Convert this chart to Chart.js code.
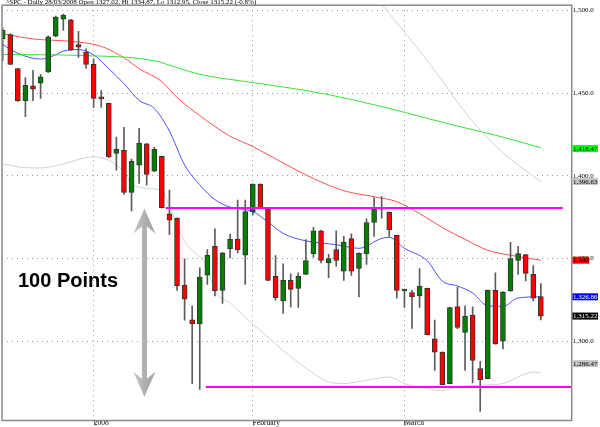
<!DOCTYPE html>
<html>
<head>
<meta charset="utf-8">
<script src="https://cdn.jsdelivr.net/npm/chart.js@4.4.1/dist/chart.umd.min.js"></script>
<style>
  html, body { margin: 0; padding: 0; background: #fff; }
  #chart { display: block; }
</style>
</head>
<body>
<canvas id="chart" width="600" height="427"></canvas>
<script>
// daily candles, index 0 = first visible session (mid December 2007)
const opens = [
  1482.8, 1485.4, 1464.8, 1445.4, 1454.4, 1456.0, 1462.8, 1484.4, 1494.8, 1494.4,
  1479.4, 1474.8, 1467.4, 1447.1, 1443.8, 1413.6, 1415.4, 1390.0, 1406.4, 1419.4,
  1402.8, 1411.8, 1377.0, 1374.4, 1334.0, 1313.0, 1310.4, 1340.0, 1357.4, 1330.8,
  1356.0, 1361.8, 1352.0, 1378.4, 1395.0, 1380.0, 1339.2, 1324.4, 1336.8, 1332.0,
  1340.4, 1353.0, 1366.8, 1347.4, 1355.4, 1342.4, 1362.0, 1344.0, 1353.0, 1371.8,
  1379.8, 1378.0, 1364.0, 1330.4, 1329.4, 1327.4, 1332.0, 1301.4, 1293.4, 1274.4,
  1321.0, 1305.4, 1315.8, 1283.4, 1277.4, 1330.8, 1300.0, 1330.4, 1348.8, 1352.4,
  1340.4, 1327.02
];
const highs = [
  1489.4, 1485.8, 1465.0, 1459.4, 1463.8, 1461.4, 1484.6, 1496.6, 1497.8, 1494.6,
  1487.4, 1476.8, 1470.8, 1451.6, 1444.0, 1423.4, 1429.4, 1410.2, 1428.8, 1419.6,
  1417.4, 1412.0, 1391.4, 1374.6, 1349.8, 1321.4, 1344.4, 1355.4, 1368.0, 1353.6,
  1364.8, 1385.4, 1385.4, 1395.2, 1395.2, 1380.2, 1351.8, 1346.8, 1340.8, 1341.4,
  1361.4, 1368.8, 1367.0, 1352.6, 1366.8, 1363.4, 1365.0, 1353.4, 1374.0, 1386.8,
  1387.4, 1378.2, 1364.2, 1331.6, 1330.8, 1344.0, 1332.2, 1312.8, 1293.6, 1320.6,
  1332.8, 1321.4, 1320.8, 1287.8, 1331.0, 1341.4, 1330.0, 1359.8, 1357.4, 1352.6,
  1345.8, 1334.87
];
const lows = [
  1469.6, 1467.2, 1445.0, 1435.8, 1445.4, 1446.8, 1462.4, 1484.0, 1488.0, 1475.8,
  1471.6, 1465.0, 1441.4, 1441.4, 1411.0, 1403.4, 1388.8, 1378.8, 1395.4, 1394.4,
  1402.6, 1380.6, 1364.4, 1330.8, 1312.8, 1274.4, 1270.8, 1334.4, 1327.4, 1322.8,
  1350.4, 1353.4, 1334.4, 1376.4, 1380.2, 1336.6, 1324.8, 1316.8, 1320.8, 1320.4,
  1340.2, 1350.8, 1347.4, 1338.4, 1345.4, 1336.8, 1339.8, 1326.8, 1346.4, 1363.4,
  1374.4, 1363.4, 1326.0, 1320.4, 1307.8, 1320.4, 1303.8, 1282.4, 1273.6, 1274.2,
  1307.6, 1282.4, 1274.8, 1257.5, 1277.2, 1298.2, 1295.4, 1330.2, 1340.4, 1336.4,
  1324.4, 1312.95
];
const closes = [
  1488.0, 1467.4, 1445.4, 1454.8, 1452.4, 1459.8, 1484.0, 1496.0, 1497.2, 1476.0,
  1477.8, 1467.4, 1446.8, 1446.5, 1411.4, 1416.0, 1390.0, 1408.8, 1419.8, 1400.8,
  1416.0, 1380.8, 1373.2, 1333.4, 1325.4, 1310.4, 1338.8, 1352.0, 1330.4, 1353.4,
  1361.8, 1355.4, 1378.4, 1395.0, 1380.4, 1336.8, 1326.4, 1336.8, 1331.4, 1339.2,
  1348.8, 1366.8, 1348.8, 1350.0, 1348.8, 1360.0, 1342.4, 1353.2, 1371.8, 1381.0,
  1380.4, 1367.4, 1330.8, 1331.4, 1326.8, 1333.4, 1304.0, 1293.4, 1273.8, 1320.4,
  1308.4, 1315.2, 1288.4, 1276.8, 1330.8, 1298.4, 1329.8, 1350.0, 1353.0, 1341.0,
  1326.0, 1315.22
];

// moving averages / bands, read at selected sessions
const blueIdx = [0, 2, 5, 7, 8, 10, 12, 14, 16, 18, 20, 22, 24, 26, 28, 30, 33, 35, 37, 40, 44, 47, 50, 51, 53, 56, 58, 60, 62, 64, 66, 68, 71];
const blueMA = [1479.4, 1474.1, 1470.6, 1473.2, 1475.4, 1476.4, 1473.2, 1464.8, 1455.8, 1445.6, 1440.8, 1427.0, 1406.6, 1394.6, 1385.6, 1381.1, 1378.4, 1372.1, 1365.2, 1360.7, 1358.4, 1356.2, 1362.2, 1362.8, 1356.2, 1348.7, 1336.4, 1333.4, 1329.2, 1321.4, 1321.1, 1326.2, 1326.86];
const redIdx = [0, 4, 9, 13, 16, 18, 21, 23, 26, 30, 33, 37, 41, 45, 49, 52, 55, 58, 61, 64, 67, 71];
const redMA = [1486.0, 1482.8, 1481.3, 1478.3, 1471.4, 1464.8, 1457.0, 1447.4, 1436.4, 1424.0, 1417.7, 1407.8, 1398.4, 1391.0, 1387.4, 1384.4, 1377.2, 1368.8, 1361.6, 1355.0, 1352.0, 1349.0];
const greenIdx = [0, 10, 20, 23, 26, 33, 40, 46, 53, 59, 65, 71];
const greenMA = [1473.4, 1472.8, 1469.6, 1465.4, 1461.4, 1456.4, 1451.6, 1446.2, 1438.4, 1431.2, 1424.6, 1417.0];
const lowerIdx = [0, 2, 5, 8, 11, 12, 14, 16, 17, 19, 21, 22, 24, 27, 28, 30, 32, 34, 37, 39, 41, 43, 45, 48, 51, 53, 56, 58, 60, 63, 66, 68, 70, 71];
const lowerBand = [1407.4, 1405.4, 1404.8, 1407.2, 1411.1, 1411.4, 1409.4, 1402.4, 1395.4, 1392.4, 1390.8, 1381.4, 1360.4, 1344.4, 1330.4, 1323.2, 1314.4, 1306.4, 1294.4, 1287.2, 1280.6, 1275.4, 1274.4, 1276.4, 1278.4, 1274.4, 1271.4, 1270.1, 1272.4, 1273.4, 1274.4, 1278.4, 1281.4, 1280.9];
const upperIdx = [48, 50, 52, 55, 58, 60, 63, 66, 68, 71];
const upperBand = [1512.0, 1503.5, 1492.5, 1475.6, 1457.5, 1444.5, 1427.6, 1414.0, 1406.5, 1396.63];

// hand drawn levels
const resistanceIdx = [21.5, 73.9];
const resistanceLevel = 1380.5;
const supportIdx = [26.8, 75.5];
const supportLevel = 1272.4;

// axes
const priceTicks = [1300, 1350, 1400, 1450, 1500];
const priceTickLabels = ['1,300.0', '1,350.0', '1,400.0', '1,450.0', '1,500.0'];
const monthTickIdx = [12, 33, 53];
const monthTickLabels = ['2008', 'February', 'March'];

// last value tags on the price axis
const tagValues = [1416.5, 1396.63, 1349.0, 1326.86, 1315.22, 1286.47];
const tagTexts = ['1,418.47', '1,396.63', '1,349', '1,326.86', '1,315.22', '1,286.47'];

const titleText = '^SPC - Daily 28/03/2008 Open 1327.02, Hi 1334.87, Lo 1312.95, Close 1315.22 (-0.8%)';

const candleIdx = opens.map((o, i) => i);
const toPoints = (idx, vals) => idx.map((x, i) => ({x: x, y: vals[i]}));

const serif = '"Liberation Serif", "DejaVu Serif", serif';

const tagFill = ['#00ff00', '#c4c4c4', '#ff0000', '#0000ff', '#000000', '#c4c4c4'];
const tagInk = ['#000', '#000', '#000', '#fff', '#fff', '#000'];

const extras = {
  id: 'extras',
  beforeDatasetsDraw(chart) {
    const {ctx, scales: {x, y}} = chart;
    // grey double arrow
    const cx = x.getPixelForValue(18.7);
    const top = y.getPixelForValue(1380.3);
    const bot = y.getPixelForValue(1266.4);
    ctx.save();
    ctx.beginPath();
    ctx.moveTo(cx, top);
    ctx.lineTo(cx + 11, top + 25);
    ctx.lineTo(cx + 2.5, top + 18);
    ctx.lineTo(cx + 2.5, bot - 18);
    ctx.lineTo(cx + 11, bot - 25);
    ctx.lineTo(cx, bot);
    ctx.lineTo(cx - 11, bot - 25);
    ctx.lineTo(cx - 2.5, bot - 18);
    ctx.lineTo(cx - 2.5, top + 18);
    ctx.lineTo(cx - 11, top + 25);
    ctx.closePath();
    const g = ctx.createLinearGradient(cx - 11, 0, cx + 11, 0);
    g.addColorStop(0, '#c8c8c8');
    g.addColorStop(0.5, '#b0b0b0');
    g.addColorStop(1, '#a4a4a4');
    ctx.fillStyle = g;
    ctx.fill();
    ctx.restore();
  },
  afterDraw(chart) {
    const {ctx, chartArea: a, scales: {x, y}} = chart;
    ctx.save();

    // frame
    ctx.strokeStyle = '#8a8a8a';
    ctx.lineWidth = 1.5;
    ctx.strokeRect(a.left, a.top, a.right - a.left, a.bottom - a.top);

    // month tick marks
    ctx.lineWidth = 1;
    ctx.strokeStyle = '#666';
    monthTickIdx.forEach(v => {
      const px = Math.round(x.getPixelForValue(v)) + 0.5;
      ctx.beginPath();
      ctx.moveTo(px, a.bottom);
      ctx.lineTo(px, a.bottom + 5);
      ctx.stroke();
    });

    // annotation text
    ctx.fillStyle = '#000';
    ctx.font = 'bold 20px "Liberation Sans", Arial, sans-serif';
    ctx.textBaseline = 'middle';
    ctx.textAlign = 'left';
    ctx.fillText('100 Points', 18, 281);

    // last value tags
    ctx.font = '7px ' + serif;
    tagValues.forEach((v, i) => {
      const py = y.getPixelForValue(v);
      const w = ctx.measureText(tagTexts[i]).width + 1;
      ctx.fillStyle = tagFill[i];
      ctx.fillRect(a.right + 0.8, py - 3.5, w, 7);
      ctx.fillStyle = tagInk[i];
      ctx.fillText(tagTexts[i], a.right + 1.2, py + 0.3);
    });

    // title over the top border
    ctx.font = '7px ' + serif;
    const tw = ctx.measureText(titleText).width;
    ctx.fillStyle = '#fff';
    ctx.fillRect(a.left + 2.5, 0, tw + 3, 4);
    ctx.fillStyle = '#000';
    ctx.textBaseline = 'middle';
    ctx.fillText(titleText, a.left + 4, 2.5);
    ctx.restore();
  }
};

const lineDs = (label, idx, vals, color) => ({
  type: 'line', label: label, data: toPoints(idx, vals),
  borderColor: color, borderWidth: 1, pointRadius: 0,
  cubicInterpolationMode: 'monotone', order: 5
});

new Chart(document.getElementById('chart'), {
  type: 'bar',
  data: {
    datasets: [
      {
        label: 'body',
        data: candleIdx.map(i => ({x: i, y: [opens[i], closes[i]]})),
        backgroundColor: candleIdx.map(i => closes[i] >= opens[i] ? '#008000' : '#ff0000'),
        borderColor: '#333',
        borderWidth: 1,
        borderSkipped: false,
        barThickness: 5,
        minBarLength: 2,
        grouped: false,
        order: 1
      },
      {
        label: 'wick',
        data: candleIdx.map(i => ({x: i, y: [lows[i], highs[i]]})),
        backgroundColor: '#5c5c5c',
        barThickness: 1,
        grouped: false,
        order: 2
      },
      lineDs('lower', lowerIdx, lowerBand, '#d2d2d2'),
      lineDs('upper', upperIdx, upperBand, '#d2d2d2'),
      lineDs('slow', greenIdx, greenMA, '#33e633'),
      lineDs('mid', redIdx, redMA, '#ff5050'),
      lineDs('fast', blueIdx, blueMA, '#5050ff'),
      {
        type: 'line', label: 'resistance',
        data: resistanceIdx.map(v => ({x: v, y: resistanceLevel})),
        borderColor: '#ff00ff', borderWidth: 2, pointRadius: 0, order: 0
      },
      {
        type: 'line', label: 'support',
        data: supportIdx.map(v => ({x: v, y: supportLevel})),
        borderColor: '#ff00ff', borderWidth: 2, pointRadius: 0, order: 0
      }
    ]
  },
  options: {
    responsive: false,
    animation: false,
    layout: { padding: { left: 2, top: 2, right: 0, bottom: 0 } },
    plugins: { legend: { display: false }, tooltip: { enabled: false } },
    scales: {
      x: {
        type: 'linear',
        min: -0.09,
        max: 75.07,
        offset: false,
        afterBuildTicks: s => { s.ticks = monthTickIdx.map(v => ({value: v})); },
        afterFit: s => { s.height = 6.5; },
        grid: { offset: false, drawTicks: false, color: '#9a9a9a' },
        border: { display: false, dash: [1, 4] },
        ticks: {
          align: 'start', padding: -2, maxRotation: 0, autoSkip: false,
          color: '#000', font: { family: serif, size: 7.5 },
          callback: v => monthTickLabels[monthTickIdx.indexOf(v)]
        }
      },
      y: {
        type: 'linear',
        position: 'right',
        min: 1252.08,
        max: 1503.18,
        afterBuildTicks: s => { s.ticks = priceTicks.map(v => ({value: v})); },
        afterFit: s => { s.width = 28.3; },
        grid: { drawTicks: false, color: '#9a9a9a' },
        border: { display: false, dash: [1, 4] },
        ticks: {
          padding: 1, color: '#000', font: { family: serif, size: 7 },
          callback: v => priceTickLabels[priceTicks.indexOf(v)]
        }
      }
    }
  },
  plugins: [extras]
});
</script>
</body>
</html>
